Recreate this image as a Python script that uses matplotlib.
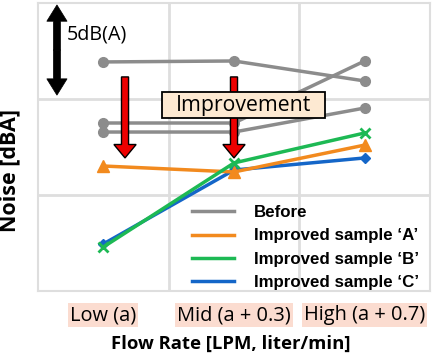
import matplotlib
matplotlib.use("Agg")
import matplotlib.pyplot as plt
from matplotlib.patches import FancyArrow, Rectangle
from matplotlib.lines import Line2D

categories = ["Low (a)", "Mid (a + 0.3)", "High (a + 0.7)"]
before_1 = [11.93, 11.98, 10.94]
before_2 = [8.75, 8.75, 11.98]
before_3 = [8.28, 8.28, 9.53]
sample_a = [6.51, 6.20, 7.60]
sample_b = [2.29, 6.67, 8.23]
sample_c = [2.45, 6.30, 6.93]
legend_labels = ["Before", "Improved sample \u2018A\u2019", "Improved sample \u2018B\u2019",
                 "Improved sample \u2018C\u2019"]

GRAY = "#8c8c8c"
ORANGE = "#f28a1e"
GREEN = "#1db954"
BLUE = "#1466c8"

plt.rcParams['font.family'] = ['Open Sans', 'DejaVu Sans']

fig = plt.figure(figsize=(4.33, 3.56), dpi=100)
ax = fig.add_axes([38/433, 65/356, 392/433, 288/356])
renderer = fig.canvas.get_renderer()


def fit(t, target_px, vertical=False):
    bb = t.get_window_extent(renderer)
    w = bb.height if vertical else bb.width
    t.set_fontsize(t.get_fontsize() * target_px / w)
    return t


x = [0.5, 1.5, 2.5]
for ys in (before_1, before_2, before_3):
    ax.plot(x, ys, color=GRAY, lw=2.5, marker='o', ms=7, zorder=3)
ax.plot(x, sample_c, color=BLUE, lw=2.5, marker='D', ms=5.5, zorder=4)
ax.plot(x, sample_a, color=ORANGE, lw=2.5, marker='^', ms=8, zorder=4)
ax.plot(x, sample_b, color=GREEN, lw=2.5, marker='x', ms=7, mew=2, zorder=5)

ax.set_xlim(0, 3)
ax.set_ylim(0, 15)
ax.set_xticks([1, 2])
ax.set_yticks([5, 10])
ax.tick_params(length=0, labelbottom=False, labelleft=False)
ax.grid(True, color="#dedede", lw=2)
for s in ax.spines.values():
    s.set_color("#dedede")
    s.set_linewidth(1.5)

# category labels with peach background
tmp = fig.text(0, 0, categories[1], fontsize=12)
tfs = 12 * 113 / tmp.get_window_extent(renderer).width
tmp.remove()
for xi, lab in zip(x, categories):
    ax.text(xi, -1.25, lab, ha='center', va='center', fontsize=tfs,
            bbox=dict(boxstyle='square,pad=0.1', fc='#fbdcd0', ec='none'),
            clip_on=False)

xl = fig.text(231/433, 1 - 344/356, "Flow Rate [LPM, liter/min]", fontsize=12,
              fontweight='bold', ha='center', va='center')
fit(xl, 238)
yl = fig.text(10/433, 1 - 171/356, "Noise [dBA]", fontsize=12, rotation=90,
              fontweight='bold', ha='center', va='center')
fit(yl, 123, vertical=True)

# 5dB double arrow
for (y0, dy) in ((12.55, 2.35), (12.55, -2.35)):
    ax.add_patch(FancyArrow(0.145, y0, 0, dy, width=0.054, head_width=0.155, head_length=0.85,
                            length_includes_head=True, fc='black', ec='black', lw=0.5, zorder=6))
t5 = ax.text(0.22, 13.35, "5dB(A)", fontsize=11, va='center', ha='left')
fit(t5, 60)

# red improvement arrows
for xa in (0.666, 1.5):
    ax.add_patch(FancyArrow(xa, 11.15, 0, -4.22, width=0.054, head_width=0.17, head_length=0.7,
                            length_includes_head=True, fc='#ee0000', ec='black', lw=1, zorder=6))

ax.add_patch(Rectangle((0.949, 9.01), 2.196 - 0.949, 10.36 - 9.01, fc='#fde9d2', ec='black',
                       lw=1.3, zorder=7))
ti = ax.text(1.573, 9.66, "Improvement", fontsize=13, ha='center', va='center', zorder=8)
fit(ti, 135)

# legend
tmp = fig.text(0, 0, legend_labels[1], fontsize=12, fontweight='bold', family='Liberation Sans')
lfs = 12 * 164 / tmp.get_window_extent(renderer).width
tmp.remove()
fpx = lfs * 100 / 72
handles = [Line2D([], [], color=GRAY, lw=2.5), Line2D([], [], color=ORANGE, lw=2.5),
           Line2D([], [], color=GREEN, lw=2.5), Line2D([], [], color=BLUE, lw=2.5)]
leg = ax.legend(handles, legend_labels, loc='upper left',
                bbox_to_anchor=((192 - 38) / 392, (291 - 205) / 288),
                frameon=False, borderpad=0, borderaxespad=0,
                prop={'weight': 'bold', 'size': lfs, 'family': 'Liberation Sans'},
                handlelength=42 / fpx, labelspacing=0.5, handletextpad=20 / fpx)

fig.savefig("out.png", dpi=100)
